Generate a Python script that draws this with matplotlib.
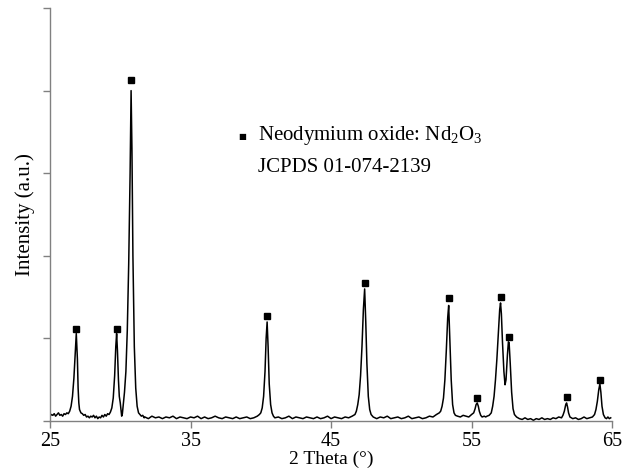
import matplotlib
matplotlib.use("Agg")
import matplotlib.pyplot as plt

plt.rcParams['font.family'] = ['Liberation Serif', 'DejaVu Sans']
plt.rcParams['mathtext.fontset'] = 'custom'
plt.rcParams['mathtext.rm'] = 'Liberation Serif'
plt.rcParams['mathtext.default'] = 'regular'

# XRD trace (2 theta, intensity)
two_theta = [
    25.0, 25.1, 25.2, 25.3, 25.4, 25.5, 25.6, 25.7, 25.8, 25.9, 26.0, 26.1, 26.2, 26.3, 26.4,
    26.5, 26.6, 26.7, 26.8, 26.87, 26.95, 27.0, 27.05, 27.1, 27.2, 27.3, 27.4, 27.5, 27.6, 27.7,
    27.8, 27.9, 28.0, 28.1, 28.2, 28.3, 28.4, 28.5, 28.6, 28.7, 28.8, 28.9, 29.0, 29.1, 29.2, 29.3,
    29.4, 29.5, 29.6, 29.68, 29.74, 29.8, 29.87, 29.93, 30.0, 30.05, 30.1, 30.15, 30.2, 30.3, 30.4,
    30.5, 30.6, 30.7, 30.77, 30.83, 30.9, 31.0, 31.1, 31.2, 31.3, 31.4, 31.5, 31.6, 31.7,
    31.75, 32.0, 32.25, 32.5, 32.75, 33.0, 33.25, 33.5, 33.75, 34.0, 34.25, 34.5, 34.75, 35.0,
    35.25, 35.5, 35.75, 36.0, 36.25, 36.5, 36.75, 37.0, 37.25, 37.5, 37.75, 38.0, 38.25, 38.5,
    38.75, 39.0, 39.25, 39.5, 39.75, 39.9,
    40.0, 40.1, 40.2, 40.3, 40.38, 40.45, 40.52, 40.6, 40.7, 40.8, 40.9, 41.0,
    41.25, 41.5, 41.75, 42.0, 42.25, 42.5, 42.75, 43.0, 43.25, 43.5, 43.75, 44.0, 44.25, 44.5,
    44.75, 45.0, 45.25, 45.5, 45.75, 46.0, 46.25, 46.5, 46.7,
    46.8, 46.9, 47.0, 47.1, 47.2, 47.3, 47.39, 47.47, 47.55, 47.65, 47.75, 47.85, 48.0,
    48.25, 48.5, 48.75, 49.0, 49.25, 49.5, 49.75, 50.0, 50.25, 50.5, 50.75, 51.0, 51.25, 51.5,
    51.75, 52.0, 52.25, 52.5, 52.7,
    52.8, 52.9, 53.0, 53.1, 53.2, 53.3, 53.37, 53.45, 53.55, 53.65, 53.75, 53.85, 54.0, 54.2,
    54.4, 54.6, 54.8, 55.0, 55.15, 55.25, 55.32, 55.4, 55.48, 55.55, 55.65, 55.75, 55.9, 56.0,
    56.1, 56.25, 56.4,
    56.5, 56.6, 56.7, 56.8, 56.9, 57.0, 57.06, 57.12, 57.2, 57.3, 57.38, 57.45, 57.55, 57.62,
    57.67, 57.75, 57.85, 57.95, 58.05, 58.2,
    58.4, 58.6, 58.8, 59.0, 59.2, 59.4, 59.6, 59.8, 60.0, 60.2, 60.4, 60.6, 60.8, 61.0, 61.2,
    61.4, 61.5,
    61.6, 61.7, 61.76, 61.83, 61.9, 62.0, 62.2, 62.4, 62.6, 62.8, 63.0, 63.2, 63.4, 63.6, 63.75,
    63.85, 63.95, 64.05, 64.13, 64.2, 64.28, 64.38, 64.5, 64.6, 64.7, 64.8, 64.9,
]
intensity = [
    6, 8, 7, 9, 6, 8, 10, 7, 8, 6, 9, 8, 10, 9, 12,
    18, 30, 52, 85, 106, 75, 40, 22, 14, 10, 9, 7, 8, 5, 6,
    4, 6, 5, 7, 4, 6, 3, 5, 4, 7, 5, 8, 6, 9, 8, 11,
    16, 28, 55, 90, 106, 85, 50, 30, 22, 14, 6, 9, 18, 35, 60,
    110, 190, 300, 400, 330, 200, 90, 40, 18, 10, 8, 6, 7, 4,
    5, 3, 6, 4, 5, 3, 5, 4, 6, 3, 5, 4, 3, 5,
    4, 6, 3, 5, 3, 4, 6, 4, 3, 5, 4, 3, 5, 3,
    4, 5, 3, 4, 6, 8,
    10, 16, 30, 60, 100, 120, 90, 45, 20, 10, 6, 4,
    5, 3, 4, 6, 3, 5, 4, 3, 5, 4, 3, 5, 3, 4,
    6, 3, 5, 4, 3, 5, 4, 6, 8,
    12, 20, 32, 55, 90, 135, 160, 120, 70, 30, 14, 8, 5,
    3, 5, 4, 6, 3, 4, 5, 3, 4, 6, 3, 4, 5, 3,
    4, 6, 5, 8, 10,
    12, 18, 28, 50, 85, 125, 140, 100, 50, 20, 10, 7, 6, 5,
    7, 6, 5, 8, 10, 15, 20, 22, 18, 12, 7, 5, 6, 5,
    6, 7, 10,
    18, 30, 50, 75, 105, 135, 143, 130, 95, 60, 44, 50, 80, 96,
    95, 70, 35, 15, 8, 5,
    3, 2, 4, 2, 3, 1, 3, 2, 4, 2, 3, 2, 4, 3, 5,
    4, 7,
    12, 20, 22, 17, 10, 5, 3, 4, 2, 3, 5, 3, 4, 5, 8,
    14, 24, 38, 45, 35, 18, 8, 4, 3, 5, 3, 4,
]

# Nd2O3 reflections marked with squares
peak_pos = [26.87, 29.74, 30.77, 40.45, 47.39, 53.37, 55.40, 57.06, 57.67, 61.76, 64.13]
marker_int = [112, 112, 413, 127, 167, 149, 28, 150, 102, 29, 50]

fig = plt.figure(figsize=(6.33, 4.70), dpi=100)
ax = fig.add_axes([0.079, 0.104, 0.888, 0.879])

ax.plot(two_theta, intensity, color='black', linewidth=1.1)
ax.plot(peak_pos, marker_int, linestyle='none', marker='s', markersize=4.3,
        color='black')

ax.set_xlim(25, 65)
ax.set_ylim(0, 500)
ax.set_xticks([25, 35, 45, 55, 65])
ax.set_yticks([0, 100, 200, 300, 400, 500])
ax.set_yticklabels([])
ax.tick_params(axis='both', direction='out', length=5, width=1, color='#808080',
               labelsize=14.5, pad=2.5)

for side in ['top', 'right']:
    ax.spines[side].set_visible(False)
for side in ['left', 'bottom']:
    ax.spines[side].set_color('#808080')
    ax.spines[side].set_linewidth(1.0)

ax.set_xlabel("2 Theta (°)", fontsize=14, labelpad=0)
ax.set_ylabel("Intensity (a.u.)", fontsize=15, labelpad=3)

ax.text(0.342, 0.690, "■", fontsize=6, family='DejaVu Sans', ha='center', va='center',
        transform=ax.transAxes)
ax.text(0.370, 0.680, "Neodymium oxide: Nd$_2$O$_3$", fontsize=15, ha='left',
        va='baseline', transform=ax.transAxes)
ax.text(0.370, 0.603, "JCPDS 01-074-2139", fontsize=15, ha='left', va='baseline',
        transform=ax.transAxes)

fig.savefig("out.png", dpi=100)
